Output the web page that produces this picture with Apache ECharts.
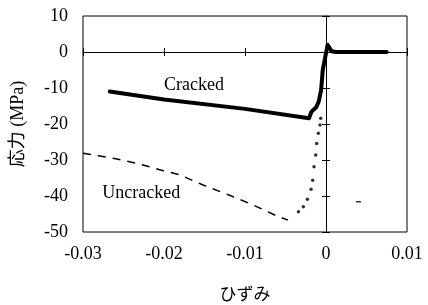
<!DOCTYPE html>
<html>
<head>
<meta charset="utf-8">
<script src="https://cdn.jsdelivr.net/npm/echarts@6/dist/echarts.min.js"></script>
<style>
html, body { margin: 0; padding: 0; background: #fff; }
#chart { width: 428px; height: 305px; }
</style>
</head>
<body>
<div id="chart"></div>
<script>
// 軸
var xTicks = [-0.03, -0.02, -0.01, 0, 0.01];
var yTicks = [-50, -40, -30, -20, -10, 0, 10];

// Cracked (太線)
var crackedData = [
    [-0.0267, -11.0], [-0.020, -13.2], [-0.010, -15.8], [-0.0021, -18.4],
    [-0.0018, -16.6], [-0.0012, -15.3], [-0.0009, -13.8], [-0.0006, -10.5],
    [-0.0004, -5.0], [-0.0001, -1.5], [0.0002, 2.0], [0.0007, 0.2],
    [0.0012, 0], [0.0075, 0]
];

// Uncracked (破線部分)
var uncrackedDash = [
    [-0.0300, -28.1], [-0.0281, -28.8], [-0.0263, -29.5], [-0.0240, -30.6],
    [-0.0217, -31.9], [-0.0201, -33.0], [-0.0182, -34.0], [-0.0151, -37.0],
    [-0.0119, -39.8], [-0.0090, -42.5], [-0.0061, -45.5], [-0.0047, -46.7]
];

// Uncracked (点の部分)
var uncrackedDots = [
    [-0.0034, -44.4], [-0.0028, -43.0], [-0.0023, -40.9], [-0.00185, -38.1],
    [-0.00164, -35.6], [-0.00148, -31.9], [-0.00127, -28.6], [-0.00115, -25.4],
    [-0.00095, -22.6], [-0.00074, -20.3], [-0.00065, -18.4]
];
var strayPoint = [[0.0040, -41.6]];

var labelCracked = { text: 'Cracked', coord: [-0.0163, -9.2] };
var labelUncracked = { text: 'Uncracked', coord: [-0.0228, -39.3] };

var serif = '"Liberation Serif", "Noto Sans CJK JP", serif';

function zeroAxis(inside, showLine) {
    return {
        type: 'value',
        min: xTicks[0],
        max: xTicks[xTicks.length - 1],
        interval: 0.01,
        axisLine: { show: showLine, onZero: true, onZeroAxisIndex: 0, lineStyle: { color: '#000', width: 1 } },
        axisTick: { show: true, inside: inside, length: 4, lineStyle: { color: '#000', width: 1 } },
        axisLabel: { show: false },
        splitLine: { show: false }
    };
}
function zeroYAxis(inside, showLine) {
    return {
        type: 'value',
        min: yTicks[0],
        max: yTicks[yTicks.length - 1],
        interval: 10,
        axisLine: { show: showLine, onZero: true, onZeroAxisIndex: 0, lineStyle: { color: '#000', width: 1 } },
        axisTick: { show: true, inside: inside, length: 4, lineStyle: { color: '#000', width: 1 } },
        axisLabel: { show: false },
        splitLine: { show: false }
    };
}

var chart = echarts.init(document.getElementById('chart'));
chart.setOption({
    animation: false,
    backgroundColor: '#fff',
    grid: {
        left: 83, right: 21, top: 16, bottom: 73,
        outerBoundsMode: 'none',
        show: true, borderColor: '#000', borderWidth: 1, backgroundColor: 'transparent'
    },
    xAxis: [{
        type: 'value',
        position: 'bottom',
        min: xTicks[0],
        max: xTicks[xTicks.length - 1],
        interval: 0.01,
        name: 'ひずみ',
        nameLocation: 'middle',
        nameGap: 55,
        nameTextStyle: { fontSize: 17, color: '#000', fontFamily: serif },
        axisLine: { show: false, onZero: false },
        axisTick: { show: false },
        splitLine: { show: false },
        axisLabel: {
            margin: 13, fontSize: 18, color: '#000', fontFamily: serif,
            formatter: function (v) { return v === 0 ? '0' : v.toFixed(2); }
        }
    }, zeroAxis(true, true), zeroAxis(false, false)],
    yAxis: [{
        type: 'value',
        position: 'left',
        min: yTicks[0],
        max: yTicks[yTicks.length - 1],
        interval: 10,
        name: '応力 (MPa)',
        nameLocation: 'middle',
        nameGap: 56,
        nameTextStyle: { fontSize: 18, color: '#000', fontFamily: serif },
        axisLine: { show: false, onZero: false },
        axisTick: { show: false },
        splitLine: { show: false },
        axisLabel: { margin: 15, fontSize: 18, color: '#000', fontFamily: serif }
    }, zeroYAxis(true, true), zeroYAxis(false, false)],
    series: [{
        name: 'Cracked',
        type: 'line',
        data: crackedData,
        showSymbol: false,
        symbol: 'none',
        lineStyle: { color: '#000', width: 4, join: 'round', cap: 'round' },
        z: 5,
        markPoint: {
            symbol: 'circle',
            symbolSize: 0,
            data: [{ coord: labelCracked.coord, value: labelCracked.text }],
            label: { show: true, position: 'inside', formatter: labelCracked.text, fontSize: 18, color: '#000', fontFamily: serif }
        }
    }, {
        name: 'Uncracked',
        type: 'line',
        data: uncrackedDash,
        showSymbol: false,
        symbol: 'none',
        lineStyle: { color: '#000', width: 1.5, type: [8, 7] },
        markPoint: {
            symbol: 'circle',
            symbolSize: 0,
            data: [{ coord: labelUncracked.coord, value: labelUncracked.text }],
            label: { show: true, position: 'inside', formatter: labelUncracked.text, fontSize: 18, color: '#000', fontFamily: serif }
        }
    }, {
        name: 'Uncracked dots',
        type: 'scatter',
        data: uncrackedDots,
        symbol: 'circle',
        symbolSize: 3.5,
        itemStyle: { color: '#000' }
    }, {
        name: 'stray',
        type: 'scatter',
        data: strayPoint,
        symbol: 'rect',
        symbolSize: [5, 1.5],
        itemStyle: { color: '#000' }
    }]
});
</script>
</body>
</html>
